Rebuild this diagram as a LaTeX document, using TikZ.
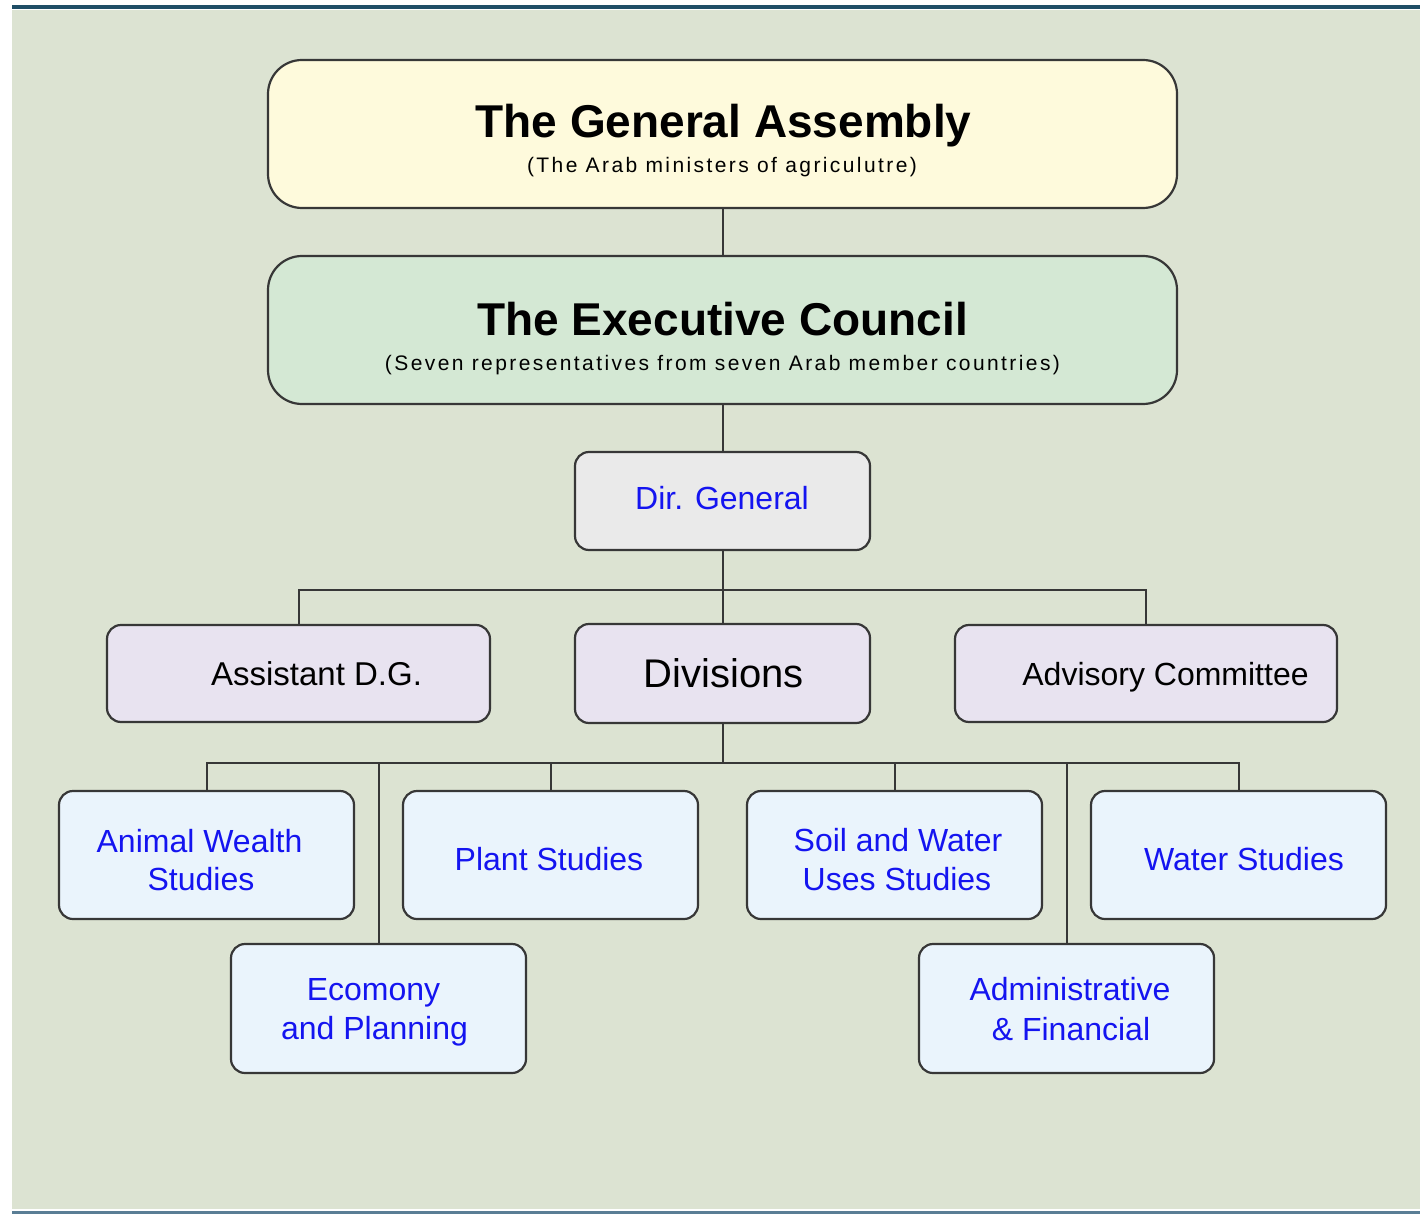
\documentclass[tikz,border=0pt]{standalone}
\usepackage{fontspec}
\setmainfont{Liberation Sans}
\newfontfamily\subfont[LetterSpace=11.5]{Liberation Sans}
\definecolor{bgc}{RGB}{220,227,210}
\definecolor{topline}{RGB}{31,78,102}
\definecolor{botline}{RGB}{90,126,149}
\definecolor{gafill}{RGB}{254,250,220}
\definecolor{ecfill}{RGB}{212,232,212}
\definecolor{dgfill}{RGB}{234,234,234}
\definecolor{lavfill}{RGB}{232,227,240}
\definecolor{stfill}{RGB}{234,244,252}
\definecolor{bluetxt}{RGB}{20,20,240}
\definecolor{edgec}{RGB}{55,55,55}
\begin{document}
\begin{tikzpicture}[x=1pt,y=-1pt,
  bigbox/.style={draw=edgec, line width=2.2pt, rounded corners=34pt, minimum width=909pt, minimum height=148pt, inner sep=0pt},
  smallbox/.style={draw=edgec, line width=2.2pt, rounded corners=14pt, inner sep=0pt},
  midbox/.style={smallbox, minimum height=97pt},
  studybox/.style={smallbox, fill=stfill, minimum width=295pt, minimum height=128pt},
  lbl/.style={inner sep=0pt, anchor=base},
  titlefont/.style={font=\fontsize{46}{50}\selectfont\bfseries},
  subfontst/.style={font=\subfont\fontsize{21}{24}\selectfont},
  bluelbl/.style={lbl, text=bluetxt, font=\fontsize{32}{39}\selectfont},
  conn/.style={draw=edgec, line width=2pt}]
\useasboundingbox (0,0) rectangle (1420,1214);
\fill[white] (0,0) rectangle (1420,1214);
\fill[bgc] (12,10.5) rectangle (1420,1208.5);
\fill[topline] (12,5.5) rectangle (1420,9);
\fill[botline] (12,1210.5) rectangle (1420,1214);

% boxes
\node[bigbox, fill=gafill] (ga) at (722.5,134) {};
\node[bigbox, fill=ecfill] (ec) at (722.5,330) {};
\node[smallbox, fill=dgfill, minimum width=295pt, minimum height=98pt] (dg) at (722.5,501) {};
\node[midbox, fill=lavfill, minimum width=383pt] (asst) at (298.5,673.5) {};
\node[smallbox, fill=lavfill, minimum width=295pt, minimum height=99pt] (div) at (722.5,673.5) {};
\node[midbox, fill=lavfill, minimum width=382pt] (adv) at (1146,673.5) {};
\node[studybox] (anim) at (206.5,855) {};
\node[studybox] (plant) at (550.5,855) {};
\node[studybox] (soil) at (894.5,855) {};
\node[studybox] (water) at (1238.5,855) {};
\node[studybox, minimum height=129pt] (econ) at (378.5,1008.5) {};
\node[studybox, minimum height=129pt] (admin) at (1066.5,1008.5) {};

% connectors
\coordinate (b1) at (722.5,590);
\coordinate (b2) at (722.5,763);
\draw[conn] (ga.south) -- (ec.north);
\draw[conn] (ec.south) -- (dg.north);
\draw[conn] (dg.south) -- (div.north);
\draw[conn] (asst.north) |- (b1) -| (adv.north);
\draw[conn] (div.south) -- (b2);
\draw[conn] (anim.north) |- (b2) -| (water.north);
\draw[conn] (plant.north) -- (plant.north |- b2);
\draw[conn] (soil.north) -- (soil.north |- b2);
\draw[conn] (econ.north) -- (econ.north |- b2);
\draw[conn] (admin.north) -- (admin.north |- b2);

% texts
\node[lbl, titlefont] (gat) at (723.5,138) {The General Assembly};
\node[lbl, subfontst] (gas) at (722,173) {(The Arab ministers of agriculutre)};
\node[lbl, titlefont] (ect) at (722.5,335) {The Executive Council};
\node[lbl, subfontst] (ecs) at (722.5,370) {(Seven representatives from seven Arab member countries)};
\node[bluelbl] (dgt) at (722,509) {Dir. General};
\node[lbl, font=\fontsize{33}{39}\selectfont] (asstt) at (316.5,685) {Assistant D.G.};
\node[lbl, font=\fontsize{40}{46}\selectfont] (divt) at (723.5,687) {Divisions};
\node[lbl, font=\fontsize{32}{39}\selectfont] (advt) at (1165.5,685) {Advisory Committee};
\node[bluelbl] (anim1) at (199.5,852) {Animal Wealth};
\node[bluelbl] (anim2) at (201,890) {Studies};
\node[bluelbl] (plantt) at (549,870) {Plant Studies};
\node[bluelbl] (soil1) at (898,851) {Soil and Water};
\node[bluelbl] (soil2) at (897,890) {Uses Studies};
\node[bluelbl] (watert) at (1244,870) {Water Studies};
\node[bluelbl] (econ1) at (373.5,1000) {Ecomony};
\node[bluelbl] (econ2) at (374.5,1039) {and Planning};
\node[bluelbl] (admin1) at (1070,1000) {Administrative};
\node[bluelbl] (admin2) at (1071,1040) {\& Financial};
\end{tikzpicture}
\end{document}
